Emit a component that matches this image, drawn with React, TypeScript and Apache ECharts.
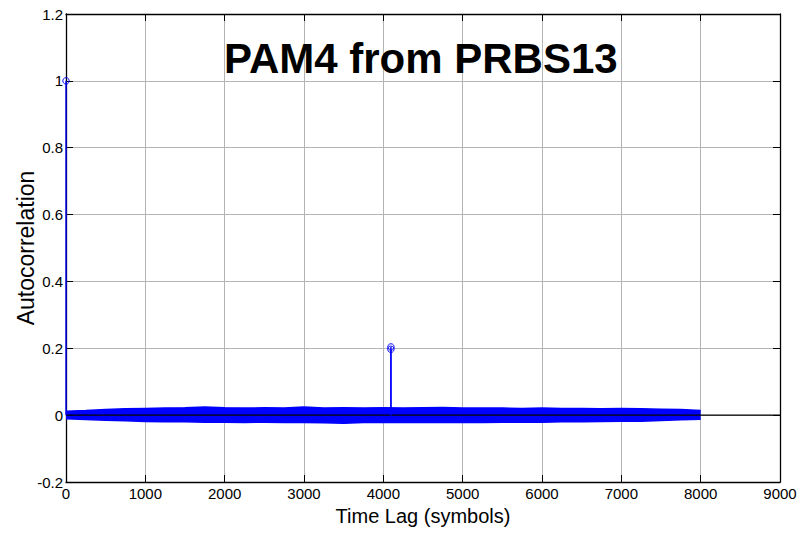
import React, { useEffect, useRef } from "react";
import * as echarts from "echarts";

// Axis ranges / ticks
const xMin = 0;
const xMax = 9000;
const xInterval = 1000;
const yMin = -0.2;
const yMax = 1.2;
const yInterval = 0.2;

// Title / labels
const titleText = "PAM4 from PRBS13";
const xLabel = "Time Lag (symbols)";
const yLabel = "Autocorrelation";

// Envelope of the dense noise stems (lags every 250 symbols)
const envelopeLags = [
  0, 250, 500, 750, 1000, 1250, 1500, 1750, 2000, 2250, 2500, 2750, 3000, 3250,
  3500, 3750, 4000, 4250, 4500, 4750, 5000, 5250, 5500, 5750, 6000, 6250, 6500,
  6750, 7000, 7250, 7500, 7750, 8000,
];
const noiseUpper = [
  0.012, 0.014, 0.017, 0.019, 0.02, 0.021, 0.022, 0.024, 0.022, 0.021, 0.022,
  0.021, 0.024, 0.021, 0.022, 0.021, 0.022, 0.021, 0.022, 0.023, 0.021, 0.021,
  0.021, 0.02, 0.021, 0.02, 0.02, 0.019, 0.02, 0.019, 0.018, 0.017, 0.014,
];
const noiseLower = [
  -0.011, -0.013, -0.015, -0.017, -0.019, -0.02, -0.02, -0.021, -0.021, -0.022,
  -0.021, -0.022, -0.022, -0.023, -0.024, -0.022, -0.022, -0.021, -0.022,
  -0.022, -0.021, -0.022, -0.021, -0.021, -0.021, -0.02, -0.02, -0.019, -0.018,
  -0.018, -0.016, -0.014, -0.012,
];

// Distinct stems
const stemLags = [0, 4095, 4096];
const stemValues = [1.0, 0.197, 0.204];

// Stem baseline extent
const baselineLags = [0, 9000];

const BLUE = "#0000ff";
const FONT = "'Liberation Sans', Arial, sans-serif";

export default function App() {
  const ref = useRef<HTMLDivElement>(null);

  useEffect(() => {
    document.body.style.margin = "0";
    if (!ref.current) return;
    const chart = echarts.init(ref.current, null, { renderer: "svg" });

    const gridLine = { show: true, lineStyle: { color: "#b4b4b4", width: 1, type: "solid" as const } };
    const axisLine = { show: true, onZero: false, lineStyle: { color: "#000", width: 1.3 } };
    const tick = { show: true, inside: true, length: 7, lineStyle: { color: "#000", width: 1 } };

    const option: any = {
      animation: false,
      backgroundColor: "#fff",
      title: {
        text: titleText,
        left: 224,
        top: 37,
        padding: 0,
        textStyle: {
          fontFamily: FONT,
          fontSize: 42,
          fontWeight: "bold",
          color: "#000",
        },
      },
      grid: {
        left: 66,
        right: 27,
        top: 14,
        bottom: 53,
        containLabel: false,
        outerBoundsMode: "none",
      },
      xAxis: [
        {
          type: "value",
          min: xMin,
          max: xMax,
          interval: xInterval,
          position: "bottom",
          axisLine,
          axisTick: tick,
          splitLine: gridLine,
          axisLabel: {
            margin: 4,
            color: "#000",
            fontFamily: FONT,
            fontSize: 15,
            formatter: (v: number) => String(Math.round(v)),
          },
          name: xLabel,
          nameLocation: "middle",
          nameGap: 24,
          nameMoveOverlap: false,
          nameTextStyle: { fontFamily: FONT, fontSize: 20, color: "#000" },
        },
        {
          type: "value",
          min: xMin,
          max: xMax,
          interval: xInterval,
          position: "top",
          axisLine,
          axisTick: tick,
          splitLine: { show: false },
          axisLabel: { show: false },
        },
      ],
      yAxis: [
        {
          type: "value",
          min: yMin,
          max: yMax,
          interval: yInterval,
          position: "left",
          axisLine,
          axisTick: tick,
          splitLine: gridLine,
          axisLabel: {
            margin: 3,
            color: "#000",
            fontFamily: FONT,
            fontSize: 15,
            padding: [4, 0, 0, 0],
            formatter: (v: number) => String(Math.round(v * 10) / 10),
          },
          name: yLabel,
          nameLocation: "middle",
          nameGap: 29,
          nameMoveOverlap: false,
          nameTextStyle: { fontFamily: FONT, fontSize: 23, color: "#000" },
        },
        {
          type: "value",
          min: yMin,
          max: yMax,
          interval: yInterval,
          position: "right",
          axisLine,
          axisTick: tick,
          splitLine: { show: false },
          axisLabel: { show: false },
        },
      ],
      series: [
        {
          name: "noise-upper",
          type: "line",
          xAxisIndex: 0,
          yAxisIndex: 0,
          data: envelopeLags.map((l, i) => [l, noiseUpper[i]]),
          showSymbol: false,
          symbol: "none",
          lineStyle: { color: BLUE, width: 1.5 },
          areaStyle: { color: BLUE, opacity: 1, origin: 0 },
          z: 2,
          silent: true,
        },
        {
          name: "noise-lower",
          type: "line",
          xAxisIndex: 0,
          yAxisIndex: 0,
          data: envelopeLags.map((l, i) => [l, noiseLower[i]]),
          showSymbol: false,
          symbol: "none",
          lineStyle: { color: BLUE, width: 1.5 },
          areaStyle: { color: BLUE, opacity: 1, origin: 0 },
          z: 2,
          silent: true,
        },
        {
          name: "baseline",
          type: "line",
          xAxisIndex: 0,
          yAxisIndex: 0,
          data: baselineLags.map((l) => [l, 0]),
          showSymbol: false,
          symbol: "none",
          lineStyle: { color: "#000", width: 1.3 },
          z: 3,
          silent: true,
        },
        {
          name: "stems",
          type: "custom",
          xAxisIndex: 0,
          yAxisIndex: 0,
          data: stemLags.map((l, i) => [l, stemValues[i]]),
          z: 4,
          silent: true,
          renderItem: (params: any, api: any) => {
            const x = api.value(0);
            const y = api.value(1);
            const p0 = api.coord([x, 0]);
            const p1 = api.coord([x, y]);
            return {
              type: "group",
              children: [
                {
                  type: "line",
                  shape: { x1: p0[0], y1: p0[1], x2: p1[0], y2: p1[1] },
                  style: { stroke: BLUE, lineWidth: 1.4 },
                },
                {
                  type: "circle",
                  shape: { cx: p1[0], cy: p1[1], r: 3.2 },
                  style: { fill: "none", stroke: BLUE, lineWidth: 1 },
                },
              ],
            };
          },
        },
      ],
    };

    chart.setOption(option);
    return () => chart.dispose();
  }, []);

  return (
    <div
      ref={ref}
      style={{ position: "fixed", left: 0, top: 0, width: 807, height: 535 }}
    />
  );
}
